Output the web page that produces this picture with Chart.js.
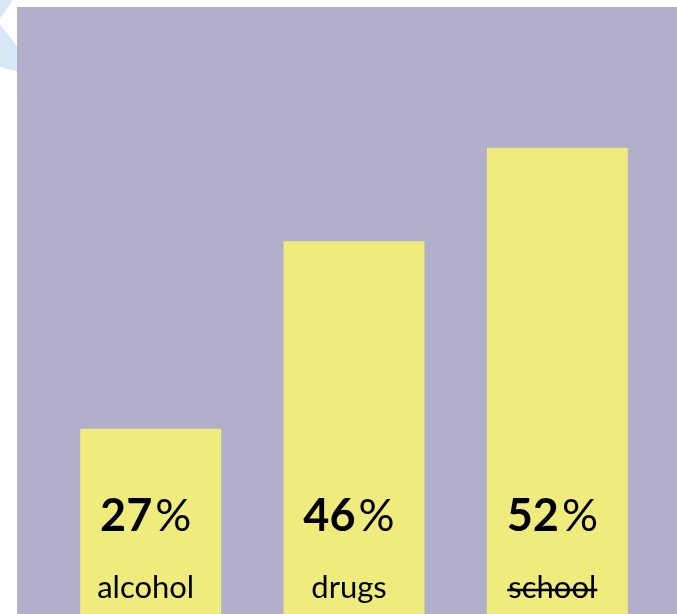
<!DOCTYPE html>
<html>
<head>
<meta charset="utf-8">
<script src="https://cdn.jsdelivr.net/npm/chart.js@4"></script>
<style>
  html, body { margin: 0; padding: 0; background: #ffffff; }
  #wrap { width: 677px; height: 614px; position: relative; }
</style>
</head>
<body>
<div id="wrap"><canvas id="chart"></canvas></div>
<script>
// categories and values
const categories = ["alcohol", "drugs", "school"];
const percentLabels = ["27", "46", "52"];
// bar heights as share of the panel height
const barHeights = [30.5, 61.4, 76.8];
const struckOut = [false, false, true];

const PANEL = "#b1afca";
const BAR = "#efeb7c";
const FONT = "Futura, 'Century Gothic', 'URW Gothic', Lato, sans-serif";

const backdrop = {
  id: "backdrop",
  beforeDraw(chart) {
    const ctx = chart.ctx;
    ctx.save();
    // pale star peeking out at the left edge
    ctx.fillStyle = "#d7e7f5";
    ctx.beginPath();
    const cx = -40, cy = 22, outer = 100, inner = 38;
    const start = 35 * Math.PI / 180;
    for (let i = 0; i < 10; i++) {
      const r = i % 2 === 0 ? outer : inner;
      const a = start + i * Math.PI / 5;
      const px = cx + r * Math.cos(a);
      const py = cy + r * Math.sin(a);
      if (i === 0) ctx.moveTo(px, py); else ctx.lineTo(px, py);
    }
    ctx.closePath();
    ctx.fill();
    ctx.fillStyle = PANEL;
    ctx.fillRect(17, 7, 660, 607);
    ctx.restore();
  }
};

const barText = {
  id: "barText",
  afterDatasetsDraw(chart) {
    const ctx = chart.ctx;
    const meta = chart.getDatasetMeta(0);
    ctx.save();
    ctx.fillStyle = "#000000";
    ctx.strokeStyle = "#000000";
    ctx.textBaseline = "alphabetic";
    meta.data.forEach((bar, i) => {
      const x = bar.x - 5;
      // number bold, percent sign regular
      ctx.font = `bold 45px ${FONT}`;
      const num = percentLabels[i];
      const wNum = ctx.measureText(num).width;
      ctx.font = `45px ${FONT}`;
      const wPct = ctx.measureText("%").width;
      const left = x - (wNum + wPct + 3) / 2;
      ctx.textAlign = "left";
      ctx.font = `bold 45px ${FONT}`;
      ctx.fillText(num, left, 531);
      ctx.font = `45px ${FONT}`;
      ctx.fillText("%", left + wNum + 3, 531);

      ctx.font = `31px ${FONT}`;
      ctx.textAlign = "center";
      ctx.fillText(categories[i], x, 598);
      if (struckOut[i]) {
        const w = ctx.measureText(categories[i]).width;
        ctx.lineWidth = 2.5;
        ctx.beginPath();
        ctx.moveTo(x - w / 2 - 1, 590);
        ctx.lineTo(x + w / 2 + 1, 590);
        ctx.stroke();
      }
    });
    ctx.restore();
  }
};

new Chart(document.getElementById("chart"), {
  type: "bar",
  data: {
    labels: categories,
    datasets: [{
      data: barHeights,
      backgroundColor: BAR,
      borderWidth: 0,
      categoryPercentage: 1,
      barPercentage: 0.693
    }]
  },
  options: {
    responsive: true,
    maintainAspectRatio: false,
    animation: false,
    layout: { padding: { left: 49, right: 18, top: 7, bottom: 0 } },
    plugins: {
      legend: { display: false },
      tooltip: { enabled: false }
    },
    scales: {
      x: { display: false },
      y: { display: false, min: 0, max: 100 }
    }
  },
  plugins: [backdrop, barText]
});
</script>
</body>
</html>
